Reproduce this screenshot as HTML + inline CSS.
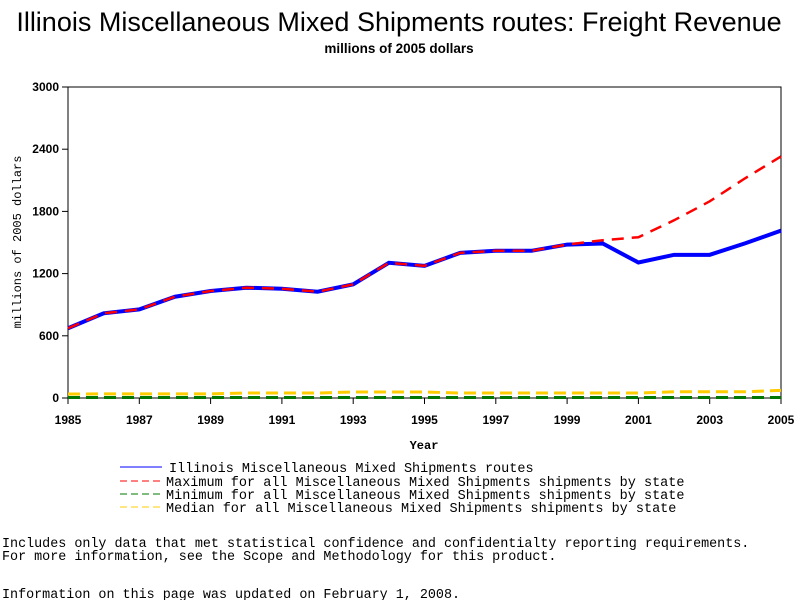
<!DOCTYPE html>
<html><head><meta charset="utf-8"><style>
body{margin:0;background:#fff;width:800px;height:600px;overflow:hidden}
svg text{font-family:"Liberation Sans",sans-serif}
svg .m text, svg text.m{font-family:"Liberation Mono",monospace}
</style></head><body>
<svg id="c" width="800" height="600">
<text x="399" y="31" text-anchor="middle" font-size="27">Illinois Miscellaneous Mixed Shipments routes: Freight Revenue</text>
<text x="399" y="53" text-anchor="middle" font-size="13.5" font-weight="bold">millions of 2005 dollars</text>
<rect x="68" y="87" width="713" height="311" fill="none" stroke="#000"/>
<g id="axes"></g>
<g id="series"></g>
<text x="424" y="449" text-anchor="middle" font-size="12" font-weight="bold" class="m">Year</text>
<text transform="translate(21,242) rotate(-90)" text-anchor="middle" font-size="12" class="m">millions of 2005 dollars</text>
<g class="m" font-size="13.5">
<line x1="120" y1="467" x2="162" y2="467" stroke="#00f"/>
<text x="169" y="472">Illinois Miscellaneous Mixed Shipments routes</text>
<line x1="120" y1="481" x2="162" y2="481" stroke="#f00" stroke-dasharray="7,4"/>
<text x="166" y="486">Maximum for all Miscellaneous Mixed Shipments shipments by state</text>
<line x1="120" y1="494" x2="162" y2="494" stroke="#070" stroke-dasharray="7,4"/>
<text x="166" y="499">Minimum for all Miscellaneous Mixed Shipments shipments by state</text>
<line x1="120" y1="507" x2="162" y2="507" stroke="#fc0" stroke-dasharray="7,4"/>
<text x="166" y="512">Median for all Miscellaneous Mixed Shipments shipments by state</text>
</g>
<g class="m" font-size="13.4">
<text x="2" y="547">Includes only data that met statistical confidence and confidentialty reporting requirements.</text>
<text x="2" y="560">For more information, see the Scope and Methodology for this product.</text>
<text x="2" y="598">Information on this page was updated on February 1, 2008.</text>
</g>
</svg>
<script>
const years=[1985,1986,1987,1988,1989,1990,1991,1992,1993,1994,1995,1996,1997,1998,1999,2000,2001,2002,2003,2004,2005];
const illinois=[673,817,855,977,1032,1064,1054,1025,1096,1304,1275,1400,1420,1420,1480,1490,1307,1381,1381,1493,1615];
const maximum=[673,817,855,977,1032,1064,1054,1025,1096,1304,1275,1400,1420,1420,1480,1522,1551,1714,1897,2121,2330];
const minimum=[5,5,5,5,5,5,5,5,5,5,5,5,5,5,5,5,5,5,5,5,5];
const median=[38,40,40,40,40,48,48,48,58,58,58,48,48,48,48,48,48,60,60,60,74];
const yTicks=[0,600,1200,1800,2400,3000];
const xTicks=[1985,1987,1989,1991,1993,1995,1997,1999,2001,2003,2005];
const NS="http://www.w3.org/2000/svg";
const X=v=>68+(v-1985)/20*713, Y=v=>398-v/3000*311;
const ax=document.getElementById('axes'), sg=document.getElementById('series');
function mk(t,a,p){const e=document.createElementNS(NS,t);for(const k in a)e.setAttribute(k,a[k]);p.appendChild(e);return e;}
yTicks.forEach(v=>{
 const l=mk('line',{x1:62,x2:68,y1:Y(v),y2:Y(v),stroke:'#000'},ax);
 
 
 const t=mk('text',{x:59,y:Y(v)+4,'text-anchor':'end','font-size':12,'font-weight':'bold'},ax);
 
 
 t.textContent=v;
});
xTicks.forEach(v=>{
 const l=mk('line',{x1:X(v),x2:X(v),y1:398,y2:404,stroke:'#000'},ax);
 
 
 const t=mk('text',{x:X(v),y:424,'text-anchor':'middle','font-size':12,'font-weight':'bold'},ax);
 
 
 t.textContent=v;
});
function line(vals,color,w,dash,name){
 const p=mk('polyline',{points:vals.map((v,i)=>X(years[i])+','+Y(v)).join(' '),fill:'none',stroke:color,'stroke-width':w},sg);
 if(dash)p.setAttribute('stroke-dasharray',dash);
 
 
}
line(minimum,'#070',3,'12,6','line-minimum');
line(median,'#fc0',3,'12,6','line-median');
line(illinois,'#00f',4,null,'line-illinois');
line(maximum,'#f00',2.5,'12,8','line-maximum');
</script>
</body></html>
